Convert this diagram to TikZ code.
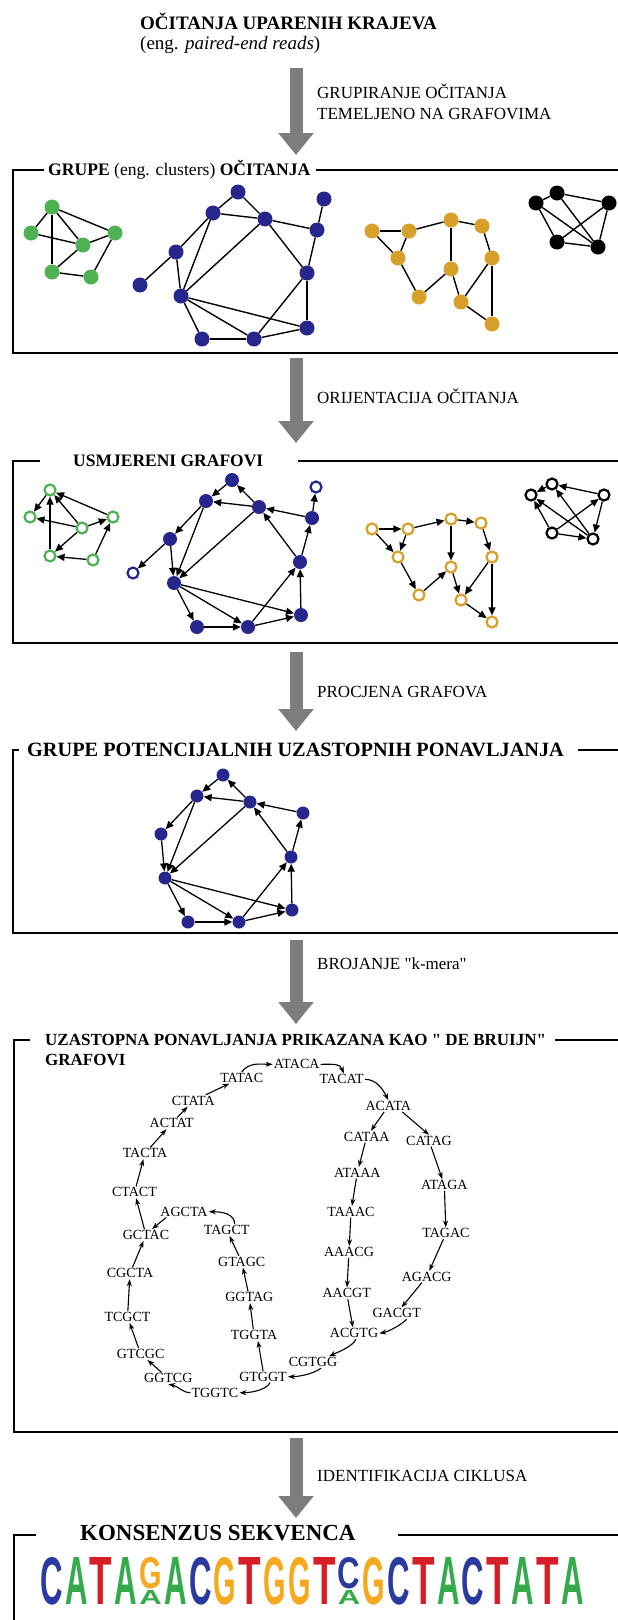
\documentclass[tikz,border=0pt]{standalone}
\usepackage{fontspec}
\setmainfont{Liberation Serif}
\newfontfamily\qfont{Liberation Serif}
\newfontfamily\logofont{Liberation Sans}
\usetikzlibrary{arrows.meta,calc}

\definecolor{ndgreen}{RGB}{78,178,82}
\definecolor{ndblue}{RGB}{38,38,140}
\definecolor{ndgold}{RGB}{214,160,42}
\definecolor{flowgray}{RGB}{125,125,125}
\definecolor{lgC}{RGB}{42,58,160}
\definecolor{lgA}{RGB}{52,170,74}
\definecolor{lgT}{RGB}{214,30,40}
\definecolor{lgG}{RGB}{246,168,30}

% one letter of the sequence logo, squeezed into a fixed box
\newcommand\lgchar[2]{\resizebox{22.5pt}{#1pt}{\logofont\bfseries #2}}
% straight double quote (the main font turns " into a curly one)
\newcommand\sq{{\qfont"}}

\tikzset{
  panelline/.style={line width=1.8pt},
  flow/.style={line width=13pt, draw=flowgray, -{Triangle[width=34pt,length=22pt]}},
  steplabel/.style={anchor=west, inner sep=0pt, font=\fontsize{17}{19}\selectfont},
  ptitle/.style={anchor=west, inner sep=0pt, font=\fontsize{17.6}{20}\selectfont\bfseries},
  gfill/.style={circle, inner sep=0pt, minimum size=15pt, fill=ndgreen},
  bfill/.style={circle, inner sep=0pt, minimum size=15pt, fill=ndblue},
  yfill/.style={circle, inner sep=0pt, minimum size=15pt, fill=ndgold},
  kfill/.style={circle, inner sep=0pt, minimum size=15pt, fill=black},
  bsolid/.style={circle, inner sep=0pt, minimum size=14pt, fill=ndblue},
  ghol/.style={circle, inner sep=0pt, minimum size=11pt, fill=white, draw=ndgreen, line width=2.2pt},
  bhol/.style={circle, inner sep=0pt, minimum size=11pt, fill=white, draw=ndblue, line width=2.2pt},
  yhol/.style={circle, inner sep=0pt, minimum size=11pt, fill=white, draw=ndgold, line width=2.2pt},
  khol/.style={circle, inner sep=0pt, minimum size=11pt, fill=white, draw=black, line width=2.2pt},
  uedge/.style={line width=1.4pt},
  dedge/.style={line width=1.3pt, -{Triangle[length=8pt,width=7pt]}},
  kmer/.style={inner sep=1pt, font=\fontsize{14}{16}\selectfont},
  kedge/.style={line width=1.1pt, -{Stealth[length=7pt,width=5pt]}},
  logo/.style={anchor=north west, inner sep=0pt},
}

\begin{document}
\begin{tikzpicture}[x=1pt,y=-1pt]
\fill[white] (0,0) rectangle (618,1620);
\useasboundingbox (0,0) rectangle (618,1620);

% ---------- heading ----------
\node[anchor=west, inner sep=0pt, font=\fontsize{19}{22}\selectfont\bfseries] (head1) at (140,21) {OČITANJA UPARENIH KRAJEVA};
\node[anchor=west, inner sep=0pt, font=\fontsize{19}{22}\selectfont] (head2) at (140,45) {(eng. \textit{paired-end reads})};

% ---------- flow arrows and their labels ----------
\coordinate (f1s) at (296,68);   \coordinate (f1e) at (296,155);
\coordinate (f2s) at (296,358);  \coordinate (f2e) at (296,443);
\coordinate (f3s) at (296,652);  \coordinate (f3e) at (296,731);
\coordinate (f4s) at (296,940);  \coordinate (f4e) at (296,1024);
\coordinate (f5s) at (296,1438); \coordinate (f5e) at (296,1518);
\draw[flow] (f1s) -- (f1e);
\draw[flow] (f2s) -- (f2e);
\draw[flow] (f3s) -- (f3e);
\draw[flow] (f4s) -- (f4e);
\draw[flow] (f5s) -- (f5e);
\node[steplabel] (l1a) at (317,91.5) {GRUPIRANJE OČITANJA};
\node[steplabel] (l1b) at (317,113.5) {TEMELJENO NA GRAFOVIMA};
\node[steplabel] (l2) at (317,396) {ORIJENTACIJA OČITANJA};
\node[steplabel] (l3) at (317,692) {PROCJENA GRAFOVA};
\node[steplabel] (l4) at (317,964) {BROJANJE \sq k-mera\sq};
\node[steplabel] (l5) at (317,1476) {IDENTIFIKACIJA CIKLUSA};

% ---------- panel 1: clusters ----------
\draw[panelline] (44,170) -- (13,170) -- (13,353) -- (618,353);
\draw[panelline] (316,170) -- (618,170);
\node[ptitle] (t1) at (48,170) {GRUPE \mdseries(eng. clusters) \bfseries OČITANJA};

\foreach \n/\x/\y in {g1/52/207, g2/31/233, g3/83/245, g4/115/233, g5/52/272, g6/91/277}
  \node[gfill] (\n) at (\x,\y) {};
\foreach \a/\b in {g1/g2, g1/g5, g1/g3, g1/g4, g2/g3, g3/g4, g3/g5, g5/g6, g6/g4}
  \draw[uedge] (\a) -- (\b);

\foreach \n/\x/\y in {b1/238/192, b2/213/213, b3/265/219, b4/176/252, b5/140/285, b6/181/296,
                     b7/307/273, b8/202/339, b9/254/339, b10/307/328, b11/317/230, b12/324/199}
  \node[bfill] (\n) at (\x,\y) {};
\foreach \a/\b in {b1/b2, b1/b3, b2/b3, b2/b4, b2/b6, b3/b6, b3/b7, b3/b11, b4/b5, b4/b6,
                   b6/b8, b6/b9, b6/b10, b9/b7, b7/b10, b8/b9, b9/b10, b11/b7, b11/b12}
  \draw[uedge] (\a) -- (\b);

\foreach \n/\x/\y in {y1/372/231, y2/409/231, y3/451/220, y4/482/226, y5/398/258,
                     y6/451/269, y7/492/258, y8/419/297, y9/461/302, y10/492/324}
  \node[yfill] (\n) at (\x,\y) {};
\foreach \a/\b in {y1/y2, y1/y5, y2/y5, y2/y3, y3/y4, y3/y6, y4/y7, y5/y8, y8/y6,
                   y6/y9, y7/y9, y7/y10, y9/y10}
  \draw[uedge] (\a) -- (\b);

\foreach \n/\x/\y in {k1/557/193, k2/536/203, k3/609/203, k4/557/242, k5/598/247}
  \node[kfill] (\n) at (\x,\y) {};
\foreach \a/\b in {k1/k2, k1/k3, k2/k4, k2/k5, k1/k5, k3/k4, k3/k5, k4/k5}
  \draw[uedge] (\a) -- (\b);

% ---------- panel 2: directed graphs ----------
\draw[panelline] (40,461) -- (13,461) -- (13,643) -- (618,643);
\draw[panelline] (298,461) -- (618,461);
\node[ptitle, font=\fontsize{17.5}{20}\selectfont\bfseries] (t2) at (73,461) {USMJERENI GRAFOVI};

\foreach \n/\x/\y in {G1/50/490, G2/30/517, G3/82/528, G4/113/517, G5/50/556, G6/93/560}
  \node[ghol] (\n) at (\x,\y) {};
\foreach \a/\b in {G1/G2, G3/G2, G5/G1, G4/G1, G3/G1, G3/G5, G6/G5, G6/G4, G3/G4}
  \draw[dedge] (\a) -- (\b);

\foreach \n/\x/\y in {D1/232/480, D2/206/501, D3/259/507, D4/170/539, D6/174/583, D7/300/562,
                     D8/197/627, D9/248/627, D10/301/615, D11/312/518}
  \node[bsolid] (\n) at (\x,\y) {};
\node[bhol] (D5) at (133,573) {};
\node[bhol] (D12) at (316,487) {};
\foreach \a/\b in {D1/D2, D3/D1, D3/D2, D2/D4, D2/D6, D3/D6, D4/D5, D4/D6, D7/D3, D11/D3,
                   D6/D8, D6/D9, D6/D10, D8/D9, D9/D10, D9/D7, D10/D7, D7/D11, D11/D12}
  \draw[dedge] (\a) -- (\b);

\foreach \n/\x/\y in {Y1/372/529, Y2/408/529, Y3/451/519, Y4/481/523, Y5/398/557,
                     Y6/451/567, Y7/492/557, Y8/419/595, Y9/461/600, Y10/492/622}
  \node[yhol] (\n) at (\x,\y) {};
\foreach \a/\b in {Y1/Y2, Y1/Y5, Y2/Y5, Y2/Y3, Y3/Y4, Y3/Y6, Y4/Y7, Y5/Y8, Y8/Y6,
                   Y6/Y9, Y7/Y9, Y7/Y10, Y9/Y10}
  \draw[dedge] (\a) -- (\b);

\foreach \n/\x/\y in {K1/552/484, K2/531/495, K3/604/495, K4/552/533, K5/593/539}
  \node[khol] (\n) at (\x,\y) {};
\foreach \a/\b in {K1/K2, K3/K1, K5/K1, K4/K2, K5/K2, K3/K5, K4/K5, K4/K3}
  \draw[dedge] (\a) -- (\b);

% ---------- panel 3: candidate tandem repeats ----------
\draw[panelline] (19,750) -- (13,750) -- (13,933) -- (618,933);
\draw[panelline] (578,750) -- (618,750);
\node[ptitle, font=\fontsize{20.3}{23}\selectfont\bfseries] (t3) at (27,750) {GRUPE POTENCIJALNIH UZASTOPNIH PONAVLJANJA};

\foreach \n/\x/\y in {P1/223/775, P2/197/796, P3/250/802, P4/161/834, P6/165/878, P7/291/857,
                     P8/188/922, P9/239/922, P10/292/910, P11/303/813}
  \node[bsolid, minimum size=13pt] (\n) at (\x,\y) {};
\foreach \a/\b in {P1/P2, P3/P1, P3/P2, P2/P4, P2/P6, P3/P6, P4/P6, P7/P3, P11/P3,
                   P6/P8, P6/P9, P6/P10, P8/P9, P9/P10, P9/P7, P10/P7, P7/P11}
  \draw[dedge] (\a) -- (\b);

% ---------- panel 4: de Bruijn graph ----------
\draw[panelline] (30,1040) -- (14,1040) -- (14,1432) -- (618,1432);
\draw[panelline] (555,1040) -- (618,1040);
\node[ptitle, font=\fontsize{17}{20}\selectfont\bfseries] (t4) at (45,1040) {UZASTOPNA PONAVLJANJA PRIKAZANA KAO \sq{} DE BRUIJN\sq};
\node[ptitle, font=\fontsize{17}{20}\selectfont\bfseries] (t4b) at (45,1060) {GRAFOVI};

\foreach \n/\x/\y in {ATACA/296.7/1064.3, TATAC/241.7/1077.7, TACAT/341.7/1079.3, CTATA/193.3/1100.7,
    ACATA/388.3/1106, ACTAT/171.7/1123.3, CATAA/366.7/1136.7, CATAG/429/1140.7,
    TACTA/145/1153.3, ATAAA/357.3/1172.7, ATAGA/444.3/1185, CTACT/134.5/1192.3,
    AGCTA/184/1211.7, TAAAC/351/1211.7, GCTAC/146/1235, TAGCT/226.7/1230,
    TAGAC/446/1233.3, AAACG/349/1252, GTAGC/241.7/1261.7, AGACG/426.7/1276.7,
    CGCTA/130/1273.3, GGTAG/249.3/1297.3, AACGT/346.7/1293.3, GACGT/396.7/1313.3,
    TCGCT/127.5/1317, ACGTG/354/1333.3, TGGTA/254/1335, GTCGC/140.7/1354,
    CGTGG/313/1362.3, GGTCG/168.3/1378.3, GTGGT/263/1376.7, TGGTC/215/1392.7}
  \node[kmer] (k\n) at (\x,\y) {\n};

% outer path, clockwise from the top
\draw[kedge] (kTATAC.north) .. controls +(8,-10) and +(-12,0) .. (kATACA.west);
\draw[kedge] (kATACA.east) .. controls +(14,0) and +(-4,-10) .. (kTACAT.70);
\draw[kedge] (kTACAT.east) .. controls +(12,0) and +(-5,-10) .. (kACATA.north);
\draw[kedge] (kACATA) -- (kCATAA);
\draw[kedge] ($(kACATA.south)+(14,0)$) -- (kCATAG.north);
\draw[kedge] (kCATAA) -- (kATAAA);
\draw[kedge] (kATAAA) -- (kTAAAC);
\draw[kedge] (kCATAG) -- (kATAGA);
\draw[kedge] (kATAGA) -- (kTAGAC);
\draw[kedge] (kTAGAC) -- (kAGACG);
\draw[kedge] (kAGACG) -- (kGACGT);
\draw[kedge] ($(kGACGT.south)+(10,0)$) .. controls +(-6,6) and +(10,-2) .. (kACGTG.east);
\draw[kedge] (kTAAAC) -- (kAAACG);
\draw[kedge] (kAAACG) -- (kAACGT);
\draw[kedge] (kAACGT) -- (kACGTG);
\draw[kedge] ($(kACGTG.south)+(2,0)$) .. controls +(-4,8) and +(8,-4) .. ($(kCGTGG.north)+(16,0)$);
\draw[kedge] ($(kCGTGG.south)+(8,0)$) .. controls +(-8,6) and +(10,0) .. (kGTGGT.east);
\draw[kedge] ($(kGTGGT.south)+(7,0)$) .. controls +(-4,8) and +(10,0) .. (kTGGTC.east);
\draw[kedge] (kTGGTC.west) .. controls +(-8,0) and +(10,2) .. (kGGTCG.south);
\draw[kedge] (kGGTCG) -- (kGTCGC);
\draw[kedge] (kGTCGC) -- (kTCGCT);
\draw[kedge] (kTCGCT) -- (kCGCTA);
\draw[kedge] (kCGCTA) -- (kGCTAC);
\draw[kedge] (kGCTAC) -- (kCTACT);
\draw[kedge] (kCTACT) -- (kTACTA);
\draw[kedge] (kTACTA) -- (kACTAT);
\draw[kedge] (kACTAT) -- (kCTATA);
\draw[kedge] (kCTATA) -- (kTATAC);
% inner loop
\draw[kedge] (kGTGGT.north) -- ($(kTGGTA.south)+(4,0)$);
\draw[kedge] (kTGGTA) -- (kGGTAG);
\draw[kedge] (kGGTAG) -- (kGTAGC);
\draw[kedge] (kGTAGC) -- (kTAGCT);
\draw[kedge] ($(kTAGCT.north)+(8,0)$) .. controls +(0,-10) and +(14,0) .. (kAGCTA.east);
\draw[kedge] ($(kAGCTA.south)+(-18,0)$) -- ($(kGCTAC.north)+(6,0)$);

% ---------- panel 5: consensus ----------
\draw[panelline] (36,1535) -- (14,1535) -- (14,1620);
\draw[panelline] (398,1535) -- (618,1535);
\node[ptitle, font=\fontsize{23}{26}\selectfont\bfseries] (t5) at (80,1533) {KONSENZUS SEKVENCA};

\node[logo, text=lgC] (s1)  at (40,1557)    {\lgchar{47}{C}};
\node[logo, text=lgA] (s2)  at (64.8,1557)  {\lgchar{47}{A}};
\node[logo, text=lgT] (s3)  at (89.6,1557)  {\lgchar{47}{T}};
\node[logo, text=lgA] (s4)  at (114.4,1557) {\lgchar{47}{A}};
\node[logo, text=lgG] (s5)  at (139.2,1557) {\lgchar{31}{G}};
\node[logo, text=lgA] (s5b) at (139.2,1590) {\lgchar{14}{A}};
\node[logo, text=lgA] (s6)  at (164,1557)   {\lgchar{47}{A}};
\node[logo, text=lgC] (s7)  at (188.8,1557) {\lgchar{47}{C}};
\node[logo, text=lgG] (s8)  at (213.6,1557) {\lgchar{47}{G}};
\node[logo, text=lgT] (s9)  at (238.4,1557) {\lgchar{47}{T}};
\node[logo, text=lgG] (s10) at (263.2,1557) {\lgchar{47}{G}};
\node[logo, text=lgG] (s11) at (288,1557)   {\lgchar{47}{G}};
\node[logo, text=lgT] (s12) at (312.8,1557) {\lgchar{47}{T}};
\node[logo, text=lgC] (s13) at (337.6,1557) {\lgchar{31}{C}};
\node[logo, text=lgA] (s13b) at (337.6,1590) {\lgchar{14}{A}};
\node[logo, text=lgG] (s14) at (362.4,1557) {\lgchar{47}{G}};
\node[logo, text=lgC] (s15) at (387.2,1557) {\lgchar{47}{C}};
\node[logo, text=lgT] (s16) at (412,1557)   {\lgchar{47}{T}};
\node[logo, text=lgA] (s17) at (436.8,1557) {\lgchar{47}{A}};
\node[logo, text=lgC] (s18) at (461.6,1557) {\lgchar{47}{C}};
\node[logo, text=lgT] (s19) at (486.4,1557) {\lgchar{47}{T}};
\node[logo, text=lgA] (s20) at (511.2,1557) {\lgchar{47}{A}};
\node[logo, text=lgT] (s21) at (536,1557)   {\lgchar{47}{T}};
\node[logo, text=lgA] (s22) at (560.8,1557) {\lgchar{47}{A}};
\end{tikzpicture}
\end{document}
